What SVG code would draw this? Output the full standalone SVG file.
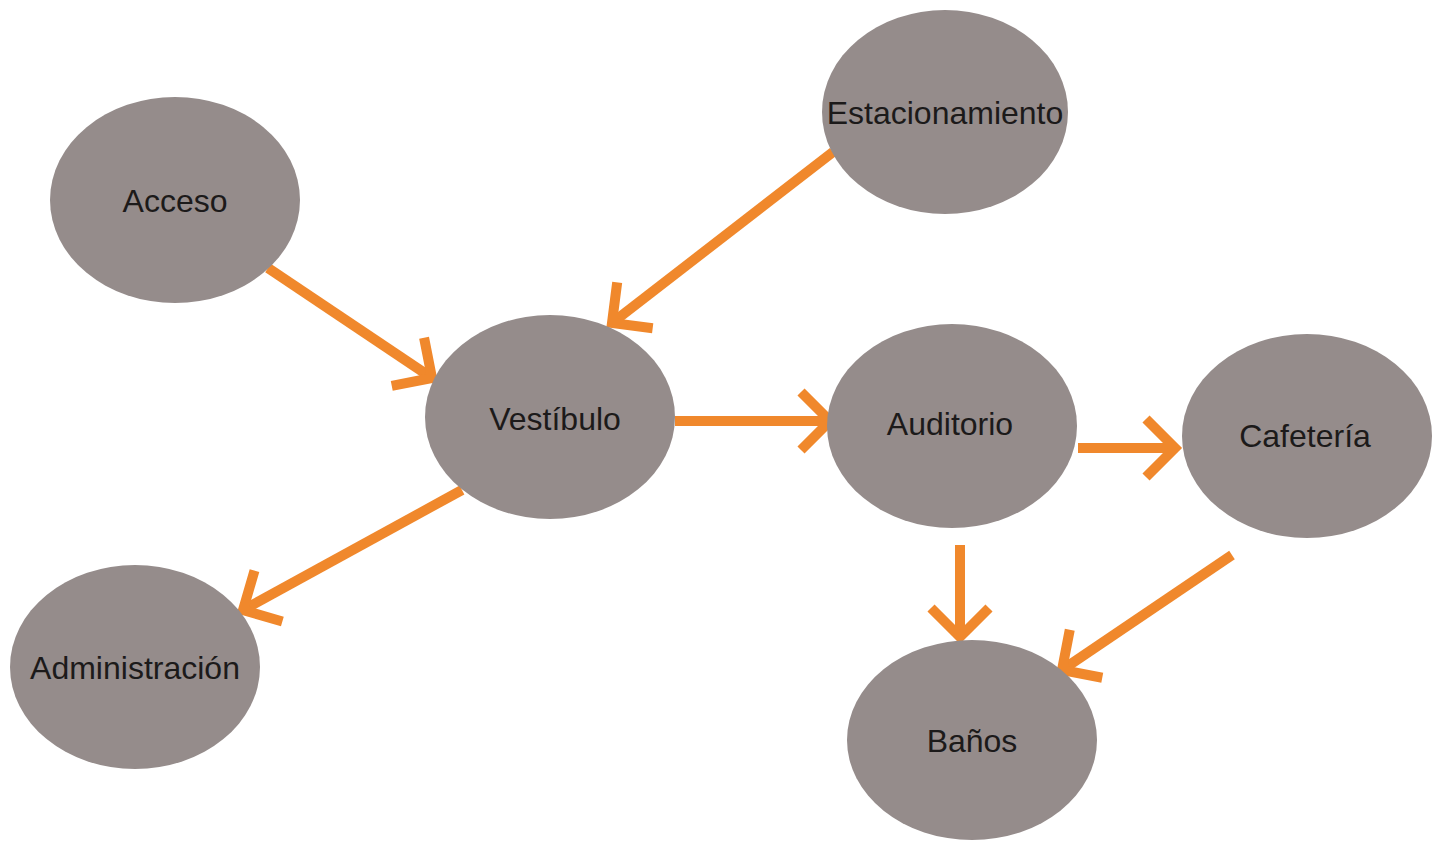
<svg xmlns="http://www.w3.org/2000/svg" width="1437" height="841" viewBox="0 0 1437 841">
<style>
.n{fill:#958c8b}
.t{font-family:"Liberation Sans",Arial,sans-serif;font-size:32px;fill:#1c1a1a;text-anchor:middle}
.c{stroke:#f0882c;stroke-width:10;fill:none}
</style>
<defs>
<marker id="ah" markerUnits="userSpaceOnUse" markerWidth="80" markerHeight="80" refX="0" refY="0" viewBox="-40 -40 80 80" orient="auto" overflow="visible">
<path d="M-29,-29 L0,0 L-29,29" fill="none" stroke="#f0882c" stroke-width="10"/>
</marker>
</defs>
<rect width="1437" height="841" fill="#ffffff"/>
<g id="connectors">
<line class="c" x1="268" y1="268" x2="432" y2="378" marker-end="url(#ah)"/>
<line class="c" x1="833" y1="152" x2="612" y2="323" marker-end="url(#ah)"/>
<line class="c" x1="675" y1="421" x2="830" y2="421" marker-end="url(#ah)"/>
<line class="c" x1="1078" y1="448" x2="1175" y2="448" marker-end="url(#ah)"/>
<line class="c" x1="462" y1="490" x2="243" y2="610" marker-end="url(#ah)"/>
<line class="c" x1="960" y1="545" x2="960" y2="637" marker-end="url(#ah)"/>
<line class="c" x1="1232" y1="555" x2="1062" y2="670" marker-end="url(#ah)"/>
</g>
<g id="acceso"><ellipse class="n" cx="175" cy="200" rx="125" ry="103"/><text class="t" x="175" y="212">Acceso</text></g>
<g id="estacionamiento"><ellipse class="n" cx="945" cy="112" rx="123" ry="102"/><text class="t" x="945" y="124">Estacionamiento</text></g>
<g id="vestibulo"><ellipse class="n" cx="550" cy="417" rx="125" ry="102"/><text class="t" x="555" y="430">Vestíbulo</text></g>
<g id="auditorio"><ellipse class="n" cx="952" cy="426" rx="125" ry="102"/><text class="t" x="950" y="435">Auditorio</text></g>
<g id="cafeteria"><ellipse class="n" cx="1307" cy="436" rx="125" ry="102"/><text class="t" x="1305" y="447">Cafetería</text></g>
<g id="administracion"><ellipse class="n" cx="135" cy="667" rx="125" ry="102"/><text class="t" x="135" y="679">Administración</text></g>
<g id="banos"><ellipse class="n" cx="972" cy="740" rx="125" ry="100"/><text class="t" x="972" y="752">Baños</text></g>
</svg>
